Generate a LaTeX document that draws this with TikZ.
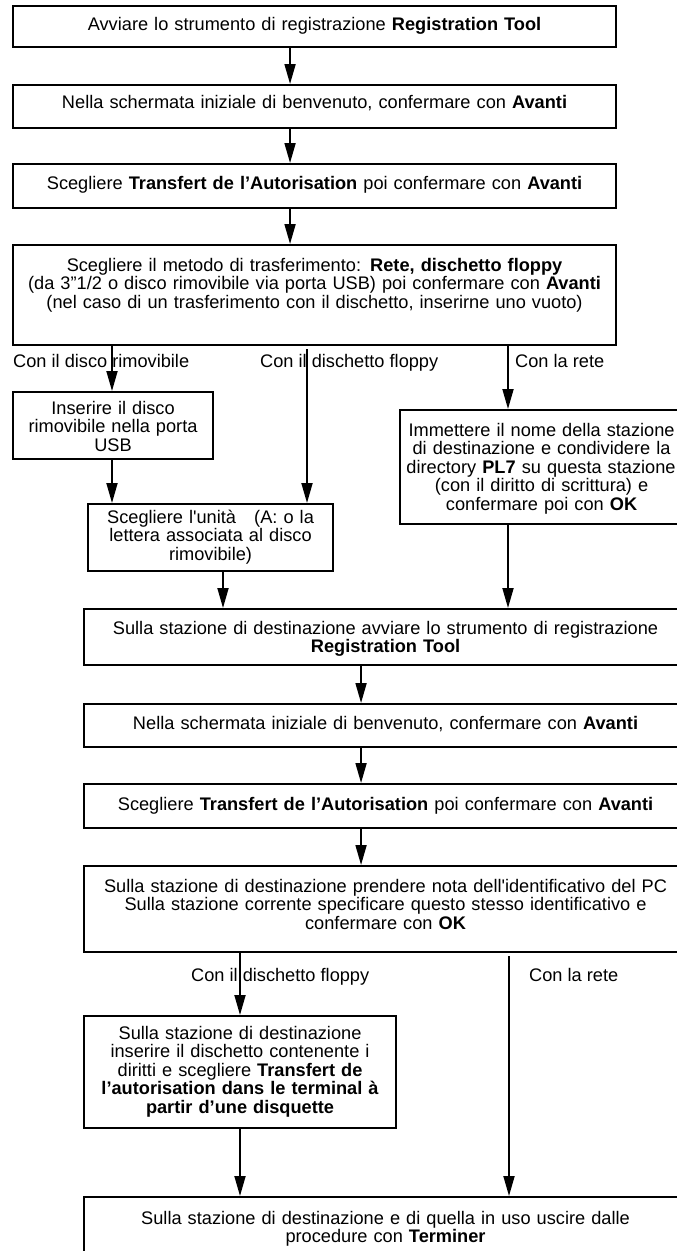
\documentclass[tikz,border=0pt]{standalone}
\usepackage{fontspec}
\setmainfont{Liberation Sans}
\usetikzlibrary{arrows.meta}
\newcommand\myfs{\fontsize{18.2pt}{18.5pt}\selectfont}
\begin{document}
\begin{tikzpicture}[x=1pt,y=-1pt,
  box/.style={draw, line width=2.1pt, inner sep=0pt, align=center, anchor=north west, font=\myfs},
  arr/.style={line width=1.8pt, -{Triangle[length=20pt,width=11pt]}},
  lab/.style={anchor=base west, inner sep=0pt, font=\myfs}]
\useasboundingbox (0,0) rectangle (677,1251);
\fill[white] (0,0) rectangle (677,1251);
\clip (0,0) rectangle (677,1251);

% boxes
\node[box, text width=603pt, text height=24pt, text depth=17pt] (b1) at (12,5)
  {Avviare lo strumento di registrazione \textbf{Registration Tool}};
\node[box, text width=603pt, text height=23pt, text depth=20pt] (b2) at (12,84)
  {Nella schermata iniziale di benvenuto, confermare con \textbf{Avanti}};
\node[box, text width=603pt, text height=25pt, text depth=19pt] (b3) at (12,163)
  {Scegliere \textbf{Transfert de l’Autorisation} poi confermare con \textbf{Avanti}};
\node[box, text width=603pt, text height=26pt, text depth=74pt] (b4) at (12,244)
  {Scegliere il metodo di trasferimento: \textbf{Rete, dischetto floppy}\\
   (da 3”1/2 o disco rimovibile via porta USB) poi confermare con \textbf{Avanti}\\
   (nel caso di un trasferimento con il dischetto, inserirne uno vuoto)};
\node[box, text width=200pt, text height=22pt, text depth=45pt] (b5) at (12,391)
  {Inserire il disco\\rimovibile nella porta\\USB};
\node[box, text width=245pt, text height=19pt, text depth=48pt] (b6) at (87,503)
  {Scegliere l\textquotesingle unità\ \ \ (A: o la\\lettera associata al disco\\rimovibile)};
\node[box, inner xsep=7.5pt, text width=268pt, text height=26pt, text depth=88pt] (b7) at (399,409)
  {Immettere il nome della stazione\\di destinazione e condividere la\\\makebox[\linewidth][r]{directory \textbf{PL7} su questa stazione}\\(con il diritto di scrittura) e\\confermare poi con \textbf{OK}};
\node[box, text width=603pt, text height=25pt, text depth=31pt] (b8) at (83,608)
  {Sulla stazione di destinazione avviare lo strumento di registrazione\\\textbf{Registration Tool}};
\node[box, text width=603pt, text height=25pt, text depth=18pt] (b9) at (83,703)
  {Nella schermata iniziale di benvenuto, confermare con \textbf{Avanti}};
\node[box, text width=603pt, text height=26pt, text depth=18pt] (b10) at (83,783)
  {Scegliere \textbf{Transfert de l’Autorisation} poi confermare con \textbf{Avanti}};
\node[box, text width=603pt, text height=26pt, text depth=60pt] (b11) at (83,865)
  {Sulla stazione di destinazione prendere nota dell\textquotesingle identificativo del PC\\Sulla stazione corrente specificare questo stesso identificativo e\\confermare con \textbf{OK}};
\node[box, text width=312pt, text height=23pt, text depth=89pt] (b12) at (83,1015)
  {Sulla stazione di destinazione\\inserire il dischetto contenente i\\diritti e scegliere \textbf{Transfert de}\\\textbf{l’autorisation dans le terminal à}\\\textbf{partir d’une disquette}};
\node[box, text width=603pt, text height=27pt, text depth=43pt] (b13) at (83,1196)
  {Sulla stazione di destinazione e di quella in uso uscire dalle\\procedure con \textbf{Terminer}};

% labels
\node[lab] (l1) at (13,367) {Con il disco rimovibile};
\node[lab] (l2) at (260,367) {Con il dischetto floppy};
\node[lab] (l3) at (515,367) {Con la rete};
\node[lab] (l4) at (191,981) {Con il dischetto floppy};
\node[lab] (l5) at (529,981) {Con la rete};

% connectors
\draw[arr] ([xshift=-24.5pt]b1.south) -- ([xshift=-24.5pt]b2.north);
\draw[arr] ([xshift=-24.5pt]b2.south) -- ([xshift=-24.5pt]b3.north);
\draw[arr] ([xshift=-24.5pt]b3.south) -- ([xshift=-24.5pt]b4.north);
\draw[arr] (b4.south -| 112,0) -- (b5.north -| 112,0);
\draw[arr] ([yshift=-3pt]b4.south -| 307,0) -- (b6.north -| 307,0);
\draw[arr] (b4.south -| 508,0) -- (b7.north -| 508,0);
\draw[arr] (b5.south -| 112,0) -- (b6.north -| 112,0);
\draw[arr] (b6.south -| 223,0) -- (b8.north -| 223,0);
\draw[arr] (b7.south -| 508,0) -- (b8.north -| 508,0);
\draw[arr] ([xshift=-24.5pt]b8.south) -- ([xshift=-24.5pt]b9.north);
\draw[arr] ([xshift=-24.5pt]b9.south) -- ([xshift=-24.5pt]b10.north);
\draw[arr] ([xshift=-24.5pt]b10.south) -- ([xshift=-24.5pt]b11.north);
\draw[arr] (b11.south -| 240,0) -- (b12.north -| 240,0);
\draw[arr] ([yshift=-3pt]b11.south -| 509,0) -- (b13.north -| 509,0);
\draw[arr] (b12.south -| 240,0) -- (b13.north -| 240,0);
\end{tikzpicture}
\end{document}
